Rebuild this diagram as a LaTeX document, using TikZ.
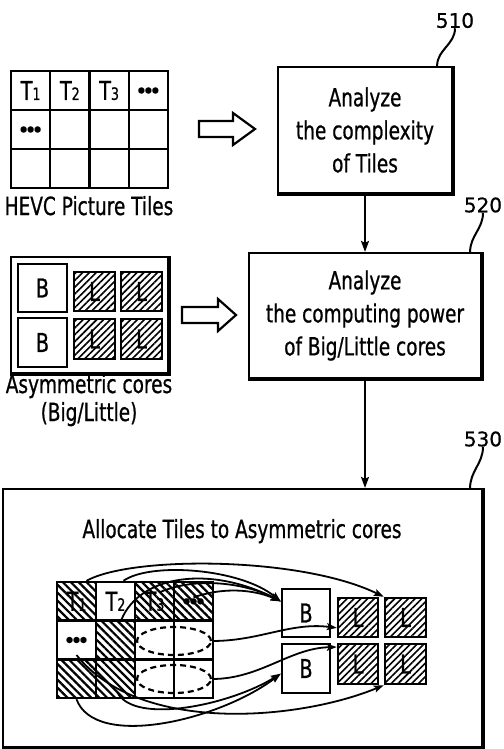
\documentclass[tikz,border=0pt]{standalone}
\usepackage{fontspec}
\setmainfont{DejaVu Sans}[FakeStretch=0.74,FakeBold=0.7]
\newfontfamily\labfont{DejaVu Sans}[FakeBold=0.6]
\usetikzlibrary{patterns.meta,arrows.meta,calc,shapes.geometric}
\tikzset{
  txt/.style={font=\fontsize{25}{33}\selectfont, align=center, inner sep=0pt},
  cell/.style={draw, line width=2.4pt, minimum width=39.25pt, minimum height=39pt, inner sep=0pt, font=\fontsize{26}{26}\selectfont},
  bcell/.style={cell, minimum width=39pt, minimum height=38.67pt},
  hatchNW/.style={pattern={Lines[angle=-45,distance=5.6pt,line width=2.2pt]}},
  hatchNE/.style={pattern={Lines[angle=45,distance=4.8pt,line width=1.6pt]}},
  core/.style={draw, line width=2.4pt, inner sep=0pt, font=\fontsize{26}{26}\selectfont},
  procbox/.style={draw, line width=2.2pt, align=center, inner sep=0pt, font=\fontsize{25}{33}\selectfont},
  thickedge/.style={line width=4.4pt},
  arr/.style={line width=2pt, -{Stealth[length=11pt,width=8pt,inset=2pt]}},
  curv/.style={line width=1.8pt, -{Stealth[length=10pt,width=7pt,inset=2pt]}},
  hollow/.style={draw, line width=2.2pt, line join=miter},
  lab/.style={font=\labfont\fontsize{20}{20}\selectfont, inner sep=0pt},
  dots/.style={font=\labfont\fontsize{8}{8}\selectfont, inner sep=0pt},
  squig/.style={line width=2pt},
  dashell/.style={draw, ellipse, line width=2.2pt, dash pattern=on 6pt off 4pt, minimum width=74pt, minimum height=28pt, inner sep=0pt},
}
\newcommand{\sub}[1]{{\fontsize{17}{17}\selectfont #1}}
\begin{document}
\begin{tikzpicture}[x=1pt,y=-1pt]
\useasboundingbox (0,0) rectangle (503,749);

% ---------- HEVC picture tiles (top left)
\node[cell] (h00) at (30.625,90.5) {T\sub{1}};
\node[cell] (h10) at (69.875,90.5) {T\sub{2}};
\node[cell] (h20) at (109.125,90.5) {T\sub{3}};
\node[cell,dots] (h30) at (148.375,90.5) {●●●};
\node[cell,dots] (h01) at (30.625,129.5) {●●●};
\node[cell] (h11) at (69.875,129.5) {};
\node[cell] (h21) at (109.125,129.5) {};
\node[cell] (h31) at (148.375,129.5) {};
\node[cell] (h02) at (30.625,168.5) {};
\node[cell] (h12) at (69.875,168.5) {};
\node[cell] (h22) at (109.125,168.5) {};
\node[cell] (h32) at (148.375,168.5) {};
\node[txt, anchor=base] (hevc) at (89,215) {HEVC Picture Tiles};

% hollow arrow 1
\draw[hollow] (199,121) -- (233,121) -- (233,113) -- (255,129) -- (233,145) -- (233,137) -- (199,137) -- cycle;

% ---------- Asymmetric cores (left middle)
\node[draw, line width=2.2pt, minimum width=157pt, minimum height=116pt, inner sep=0pt] (asym) at (89.5,315) {};
\draw[thickedge] (asym.north east) -- (asym.south east) -- (asym.south west);
\node[core, minimum width=49pt, minimum height=48pt] (tB1) at (42.5,288) {B};
\node[core, minimum width=49pt, minimum height=49pt] (tB2) at (42.5,342.5) {B};
\node[core, hatchNE, minimum width=41pt, minimum height=39pt] (tL00) at (94.5,291.5) {L};
\node[core, hatchNE, minimum width=41pt, minimum height=39pt] (tL01) at (141.5,291.5) {L};
\node[core, hatchNE, minimum width=41pt, minimum height=40pt] (tL10) at (94.5,339) {L};
\node[core, hatchNE, minimum width=41pt, minimum height=40pt] (tL11) at (141.5,339) {L};
\node[txt, anchor=base] (asyml1) at (89,393) {Asymmetric cores};
\node[txt, anchor=base] (asyml2) at (89,421) {(Big/Little)};

% hollow arrow 2
\draw[hollow] (182,307) -- (218,307) -- (218,299) -- (236,315) -- (218,331) -- (218,323) -- (182,323) -- cycle;

% ---------- process boxes
\node[procbox, minimum width=174pt, minimum height=126pt] (p510) at (365,130) {Analyze\\the complexity\\of Tiles};
\draw[thickedge] (p510.north east) -- (p510.south east) -- (p510.south west);
\node[procbox, minimum width=232pt, minimum height=125pt] (p520) at (365,315.5) {Analyze\\the computing power\\of Big/Little cores};
\draw[thickedge] (p520.north east) -- (p520.south east) -- (p520.south west);
\node[draw, line width=2.2pt, minimum width=479pt, minimum height=258pt, inner sep=0pt] (p530) at (242.5,618) {};
\draw[thickedge] (p530.north east) -- (p530.south east) -- (p530.south west);

\draw[arr] (p510.south) -- (p520.north);
\draw[arr] (p520.south) -- (p520.south |- p530.north);

% reference labels
\node[lab] (l510) at (455,20.5) {510};
\node[lab] (l520) at (483,205) {520};
\node[lab] (l530) at (483,439) {530};
\draw[squig] (l510.south) to[out=-90,in=90] ([xshift=-16pt]p510.north east);
\draw[squig] (l520.south) to[out=-90,in=90] ([xshift=-12pt]p520.north east);
\draw[squig] (l530.south) to[out=-90,in=90] ([xshift=-13pt]p530.north east);

% ---------- box 530 content
\node[txt, anchor=base] (alloc) at (242,538) {Allocate Tiles to Asymmetric cores};

\node[bcell, hatchNW] (g00) at (76.5,601.3) {T\sub{1}};
\node[bcell] (g10) at (115.5,601.3) {T\sub{2}};
\node[bcell, hatchNW] (g20) at (154.5,601.3) {T\sub{3}};
\node[bcell, hatchNW, dots] (g30) at (193.5,601.3) {●●●};
\node[bcell, dots] (g01) at (76.5,640) {●●●};
\node[bcell, hatchNW] (g11) at (115.5,640) {};
\node[bcell] (g21) at (154.5,640) {};
\node[bcell] (g31) at (193.5,640) {};
\node[bcell, hatchNW] (g02) at (76.5,678.7) {};
\node[bcell, hatchNW] (g12) at (115.5,678.7) {};
\node[bcell] (g22) at (154.5,678.7) {};
\node[bcell] (g32) at (193.5,678.7) {};
\node[dashell] (e1) at (174,641) {};
\node[dashell] (e2) at (174,679) {};

\node[core, minimum width=48pt, minimum height=48pt] (B1) at (306,613) {B};
\node[core, minimum width=48pt, minimum height=49pt] (B2) at (306,668.5) {B};
\node[core, hatchNE, minimum width=40pt, minimum height=39pt] (L00) at (358,617.5) {L};
\node[core, hatchNE, minimum width=41pt, minimum height=39pt] (L01) at (405.5,617.5) {L};
\node[core, hatchNE, minimum width=40pt, minimum height=40pt] (L10) at (358,664) {L};
\node[core, hatchNE, minimum width=41pt, minimum height=40pt] (L11) at (405.5,664) {L};

\coordinate (B1in) at ($(B1.north west)!0.27!(B1.south west)$);
\coordinate (B2in) at ($(B2.north west)!0.6!(B2.south west)$);
\coordinate (L00in) at ($(L00.north west)!0.75!(L00.south west)$);
\coordinate (L10in) at ($(L10.north west)!0.1!(L10.south west)$);

% allocation curves
\draw[curv] ([xshift=10pt]g00.north) .. controls (130,556) and (300,556) .. (L01.north west);
\draw[curv] ([xshift=8pt]g10.north) .. controls (150,562) and (240,568) .. (B1in);
\draw[curv] ([xshift=6pt]g11.north) .. controls (140,575) and (210,565) .. (B1in);
\draw[curv] ([xshift=5pt,yshift=9pt]g20.center) .. controls (200,575) and (250,585) .. (B1in);
\draw[curv] ([yshift=4pt]g30.center) .. controls (230,585) and (260,592) .. (B1in);
\draw[curv] (e1.east) .. controls (260,641) and (290,622) .. (L00in);
\draw[curv] (e2.east) .. controls (260,679) and (290,648) .. (L10in);
\draw[curv] ([yshift=-15pt]g01.center) .. controls (140,735) and (300,720) .. (L11.south west);
\draw[curv] (g02.south) .. controls (95,750) and (220,720) .. (B2in);
\draw[curv] ([xshift=2pt,yshift=-14pt]g12.center) .. controls (135,725) and (230,705) .. (B2in);
\end{tikzpicture}
\end{document}
